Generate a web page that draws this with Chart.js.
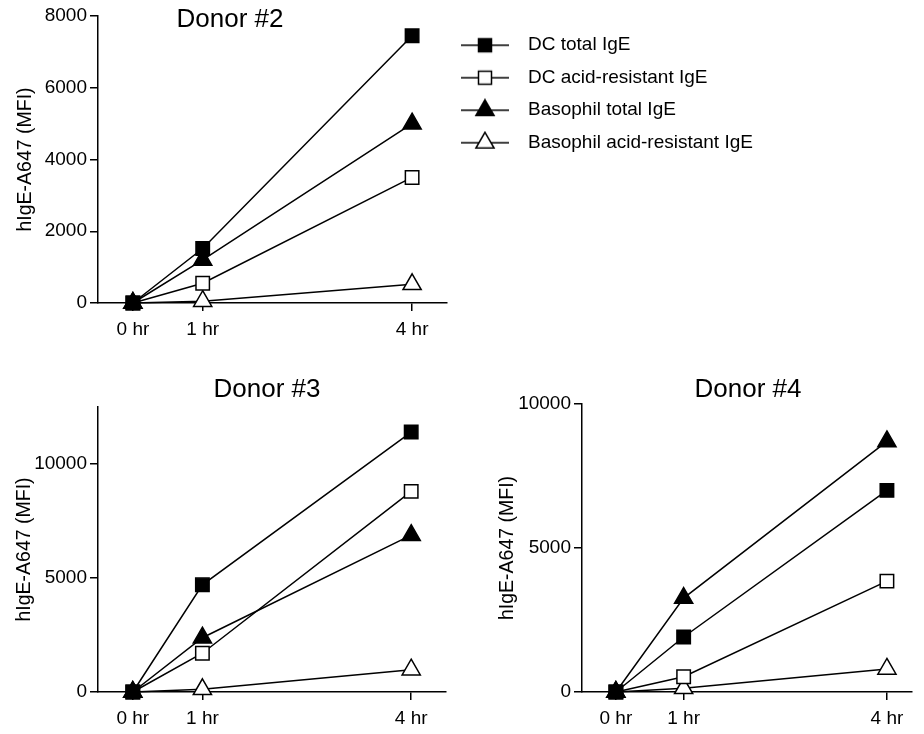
<!DOCTYPE html>
<html>
<head>
<meta charset="utf-8">
<title>hIgE-A647 uptake</title>
<script src="https://cdn.jsdelivr.net/npm/chart.js@4.4.1/dist/chart.umd.min.js"></script>
<style>
  html, body { margin: 0; padding: 0; background: #fff; overflow: hidden; }
  .panel { position: absolute; }
</style>
</head>
<body>
<div class="panel" style="left:0;top:0"><canvas id="donor2" width="924" height="345"></canvas></div>
<div class="panel" style="left:0;top:370px"><canvas id="donor3" width="460" height="364"></canvas></div>
<div class="panel" style="left:480px;top:370px"><canvas id="donor4" width="444" height="364"></canvas></div>
<script>
const hours = [0, 1, 4];
const hourLabels = ['0 hr', '1 hr', '4 hr'];
const seriesNames = ['DC total IgE', 'DC acid-resistant IgE', 'Basophil total IgE', 'Basophil acid-resistant IgE'];
const axisTitle = 'hIgE-A647 (MFI)';

// MFI, one value per time point
const donor2DcTotal = [0, 1520, 7450];
const donor2DcAcid = [0, 550, 3500];
const donor2BasoTotal = [0, 1200, 5000];
const donor2BasoAcid = [0, 50, 520];
const donor2YTicks = [0, 2000, 4000, 6000, 8000];

const donor3DcTotal = [0, 4700, 11400];
const donor3DcAcid = [0, 1700, 8800];
const donor3BasoTotal = [0, 2380, 6880];
const donor3BasoAcid = [0, 120, 980];
const donor3YTicks = [0, 5000, 10000];

const donor4DcTotal = [0, 1910, 7000];
const donor4DcAcid = [0, 530, 3850];
const donor4BasoTotal = [0, 3260, 8700];
const donor4BasoAcid = [0, 130, 800];
const donor4YTicks = [0, 5000, 10000];

const FONT = "'Liberation Sans', Arial, Helvetica, sans-serif";
Chart.defaults.font.family = FONT;
Chart.defaults.color = '#000';

const seriesStyle = [
  { pointStyle: 'rect', pointBackgroundColor: '#000', pointRadius: 9.5 },
  { pointStyle: 'rect', pointBackgroundColor: '#fff', pointRadius: 9.5 },
  { pointStyle: 'triangle', pointBackgroundColor: '#000', pointRadius: 10.5 },
  { pointStyle: 'triangle', pointBackgroundColor: '#fff', pointRadius: 10.5 }
];

function makeDatasets(values) {
  return values.map((vals, i) => ({
    label: seriesNames[i],
    data: hours.map((h, j) => ({ x: h, y: vals[j] })),
    borderColor: '#000',
    borderWidth: 1.5,
    pointBorderColor: '#000',
    pointBorderWidth: 1.5,
    pointHoverRadius: seriesStyle[i].pointRadius,
    tension: 0,
    clip: false,
    ...seriesStyle[i]
  }));
}

// legend icon: short line with the marker on it
function makeIcon(style, fill) {
  const c = document.createElement('canvas');
  c.width = 57;
  c.height = 24;
  const g = c.getContext('2d');
  g.strokeStyle = '#000';
  g.lineWidth = 1.5;
  g.beginPath();
  g.moveTo(0, 12);
  g.lineTo(48, 12);
  g.stroke();
  g.fillStyle = fill;
  g.beginPath();
  if (style === 'rect') {
    g.rect(24 - 6.5, 12 - 6.5, 13, 13);
  } else {
    const r = 10.5;
    g.moveTo(24, 12 - r);
    g.lineTo(24 + r * Math.sin(2 * Math.PI / 3), 12 + r / 2);
    g.lineTo(24 - r * Math.sin(2 * Math.PI / 3), 12 + r / 2);
    g.closePath();
  }
  g.fill();
  g.stroke();
  return c;
}
const legendIcons = seriesStyle.map(s => makeIcon(s.pointStyle, s.pointBackgroundColor));

const panelTitle = {
  id: 'panelTitle',
  afterDraw(chart, args, opts) {
    const ctx = chart.ctx;
    ctx.save();
    ctx.font = '26px ' + FONT;
    ctx.fillStyle = '#000';
    ctx.textAlign = 'center';
    ctx.textBaseline = 'alphabetic';
    ctx.fillText(opts.text, opts.x, opts.y);
    ctx.restore();
  }
};

function makeConfig(p) {
  return {
    type: 'line',
    data: { datasets: makeDatasets(p.values) },
    plugins: [panelTitle],
    options: {
      responsive: false,
      animation: false,
      layout: { padding: p.padding },
      plugins: {
        tooltip: { enabled: false },
        panelTitle: p.title,
        legend: p.legend || { display: false }
      },
      scales: {
        x: {
          type: 'linear',
          min: -0.5,
          max: p.xMax,
          afterBuildTicks: s => { s.ticks = hours.map(v => ({ value: v })); },
          ticks: {
            callback: (v, i) => hourLabels[i],
            font: { size: 19 },
            color: '#000',
            padding: 7,
            autoSkip: false,
            maxRotation: 0
          },
          grid: { drawOnChartArea: false, tickLength: 8, color: '#000', lineWidth: 1.5 },
          border: { display: true, color: '#000', width: 1.5 },
          afterFit: s => { s.height = 42; }
        },
        y: {
          min: 0,
          max: p.yMax,
          afterBuildTicks: s => { s.ticks = p.yTicks.map(v => ({ value: v })); },
          ticks: {
            callback: v => String(v),
            font: { size: 19 },
            color: '#000',
            padding: 3,
            autoSkip: false
          },
          grid: { drawOnChartArea: false, tickLength: 8, color: '#000', lineWidth: 1.5 },
          border: { display: true, color: '#000', width: 1.5 },
          title: {
            display: true,
            text: axisTitle,
            font: { size: 19.5 },
            color: '#000',
            padding: { top: p.titlePad, bottom: 0 }
          },
          afterFit: s => { s.width = p.yWidth; }
        }
      }
    }
  };
}

new Chart(document.getElementById('donor2'), makeConfig({
  values: [donor2DcTotal, donor2DcAcid, donor2BasoTotal, donor2BasoAcid],
  yTicks: donor2YTicks,
  title: { text: 'Donor #2', x: 230, y: 27 },
  padding: { top: 16, right: 167, bottom: 0, left: 0 },
  xMax: 4.5, yMax: 8000, yWidth: 98, titlePad: 13.6,
  legend: {
    display: true,
    position: 'right',
    align: 'start',
    maxWidth: 310,
    title: { display: true, text: '', font: { size: 1 }, padding: { top: 5, bottom: 0 } },
    labels: {
      usePointStyle: true,
      pointStyleWidth: 58,
      padding: 13.5,
      color: '#000',
      font: { size: 19 },
      generateLabels: chart => chart.data.datasets.map((ds, i) => ({
        text: ds.label,
        pointStyle: legendIcons[i],
        datasetIndex: i,
        hidden: false,
        lineWidth: 0,
        fontColor: '#000'
      }))
    }
  }
}));

new Chart(document.getElementById('donor3'), makeConfig({
  values: [donor3DcTotal, donor3DcAcid, donor3BasoTotal, donor3BasoAcid],
  yTicks: donor3YTicks,
  title: { text: 'Donor #3', x: 267, y: 27 },
  padding: { top: 37, right: 14, bottom: 0, left: 0 },
  xMax: 4.5, yMax: 12500, yWidth: 98, titlePad: 12.6
}));

new Chart(document.getElementById('donor4'), makeConfig({
  values: [donor4DcTotal, donor4DcAcid, donor4BasoTotal, donor4BasoAcid],
  yTicks: donor4YTicks,
  title: { text: 'Donor #4', x: 268, y: 27 },
  padding: { top: 34, right: 1, bottom: 0, left: 0 },
  xMax: 4.37, yMax: 10000, yWidth: 102, titlePad: 15.6
}));
</script>
</body>
</html>
